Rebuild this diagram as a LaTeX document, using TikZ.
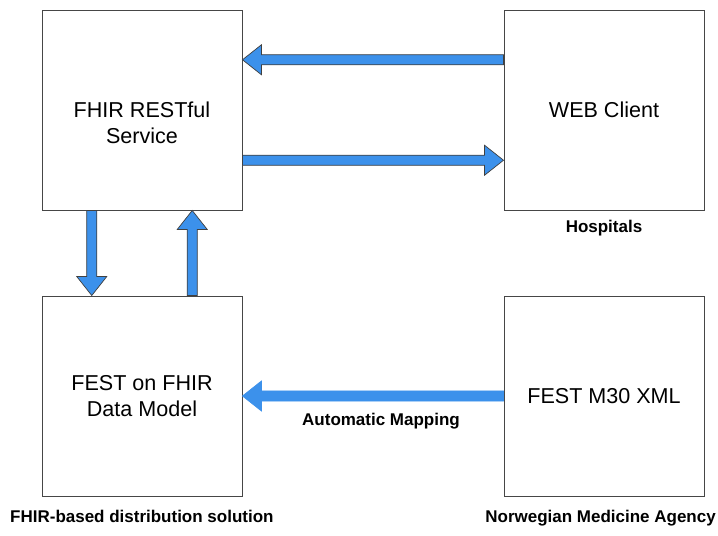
\documentclass[tikz,border=0pt]{standalone}
\usepackage{fontspec}
\setmainfont{Liberation Sans}
\usetikzlibrary{calc}
\definecolor{ArrowClr}{RGB}{60,145,235}
\definecolor{BoxClr}{RGB}{70,70,70}

\begin{document}
\begin{tikzpicture}[x=0.03cm,y=-0.03cm,
  box/.style={draw=BoxClr,line width=0.8pt,minimum size=6cm,inner sep=0pt,
    align=center,font=\fontsize{18.4}{22.2}\selectfont},
  boxtext/.style={align=center,font=\fontsize{18.4}{22.2}\selectfont},
  lbl/.style={inner sep=0pt,font=\fontsize{14.5}{17}\selectfont\bfseries},
  blockarrow/.style={fill=ArrowClr,draw=black!75,line width=0.6pt,
    to path={
      let \p1=($(\tikztotarget)-(\tikztostart)$),
          \n1={atan2(\y1,\x1)}, \n2={veclen(\x1,\y1)-16.2pt} in
      ($(\tikztostart)+(\n1+90:4.3pt)$) -- ++(\n1:\n2) -- ++(\n1+90:8.5pt)
      -- (\tikztotarget)
      -- ($(\tikztotarget)+(\n1+180:16.2pt)+(\n1-90:12.8pt)$)
      -- ++(\n1+90:8.5pt) -- ++(\n1+180:\n2) -- cycle}}]
\useasboundingbox (0,0) rectangle (718,536);

\node[box,label={[boxtext,yshift=-0.39cm]center:{FHIR RESTful\\Service}}] (rest) at (142,110) {};
\node[box] (web) at (604,110) {WEB Client};
\node[box] (fest) at (142,396) {FEST on FHIR\\Data Model};
\node[box] (xml) at (604,396) {FEST M30 XML};

\draw[blockarrow] ($(web.north west)!.25!(web.south west)$) to ($(rest.north east)!.25!(rest.south east)$);
\draw[blockarrow] ($(rest.north east)!.75!(rest.south east)$) to ($(web.north west)!.75!(web.south west)$);
\draw[blockarrow] ($(rest.south west)!.25!(rest.south east)$) to ($(fest.north west)!.25!(fest.north east)$);
\draw[blockarrow] ($(fest.north west)!.75!(fest.north east)$) to ($(rest.south west)!.75!(rest.south east)$);
\draw[blockarrow,draw=ArrowClr] (xml.west) to (fest.east);

\node[lbl,anchor=base] (hosp) at (604,233) {Hospitals};
\node[lbl,anchor=base] (map) at (381,425) {Automatic Mapping};
\node[lbl,anchor=base west] (dist) at (10,522) {FHIR-based distribution solution};
\node[lbl,anchor=base east] (agency) at (716,522) {Norwegian Medicine Agency};

\end{tikzpicture}
\end{document}
